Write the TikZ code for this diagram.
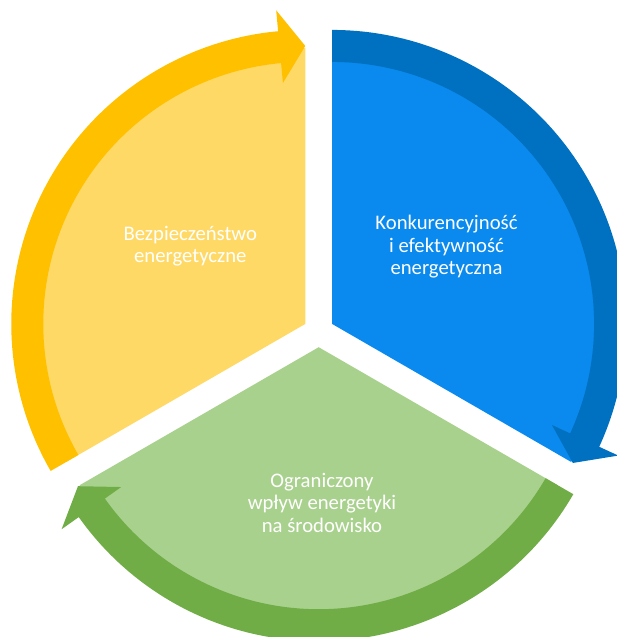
\documentclass[tikz,border=0pt]{standalone}
\usepackage{fontspec}
\setmainfont{Carlito}
\usepackage{tikz}
\definecolor{gold}{HTML}{FFC000}
\definecolor{paleyellow}{HTML}{FFD966}
\definecolor{darkblue}{HTML}{0070C0}
\definecolor{brightblue}{HTML}{0A8AEE}
\definecolor{leafgreen}{HTML}{70AD47}
\definecolor{palegreen}{HTML}{A9D18E}
\tikzset{segtext/.style={text=white,align=center,inner sep=0pt,font=\fontsize{20.7}{22.5}\selectfont}}

\begin{document}
\begin{tikzpicture}[x=1pt,y=1pt]
    \useasboundingbox (-318.7,-305.3) rectangle (298.3,331.7);
    \begin{scope}[shift={(150:15.5)}]
        \fill[paleyellow] (0,0) -- (90:276) arc[start angle=90,end angle=210,radius=276] -- cycle;
        \fill[gold] (210:294) arc[start angle=210,end angle=95.3,radius=294]
            -- (95.3:315) -- (90:278) -- (95.3:242) -- (95.3:262)
            arc[start angle=95.3,end angle=210,radius=262] -- cycle;
    \end{scope}
    \begin{scope}[shift={(30:15.5)}]
        \fill[brightblue] (0,0) -- (-30:276) arc[start angle=-30,end angle=90,radius=276] -- cycle;
        \fill[darkblue] (90:294) arc[start angle=90,end angle=-24.7,radius=294]
            -- (-24.7:315) -- (-30:278) -- (-24.7:242) -- (-24.7:262)
            arc[start angle=-24.7,end angle=90,radius=262] -- cycle;
    \end{scope}
    \begin{scope}[shift={(270:15.5)}]
        \fill[palegreen] (0,0) -- (210:276) arc[start angle=210,end angle=330,radius=276] -- cycle;
        \fill[leafgreen] (330:294) arc[start angle=330,end angle=215.3,radius=294]
            -- (215.3:315) -- (210:278) -- (215.3:242) -- (215.3:262)
            arc[start angle=215.3,end angle=330,radius=262] -- cycle;
    \end{scope}
    \node (bezp) [segtext] at (-128.4,85.7) {Bezpieczeństwo\\energetyczne};
    \node (konk) [segtext] at (127.8,84.9) {Konkurencyjność\\i efektywność\\energetyczna};
    \node (ogr) [segtext] at (3.3,-170.9) {Ograniczony\\wpływ energetyki\\na środowisko};
\end{tikzpicture}
\end{document}
